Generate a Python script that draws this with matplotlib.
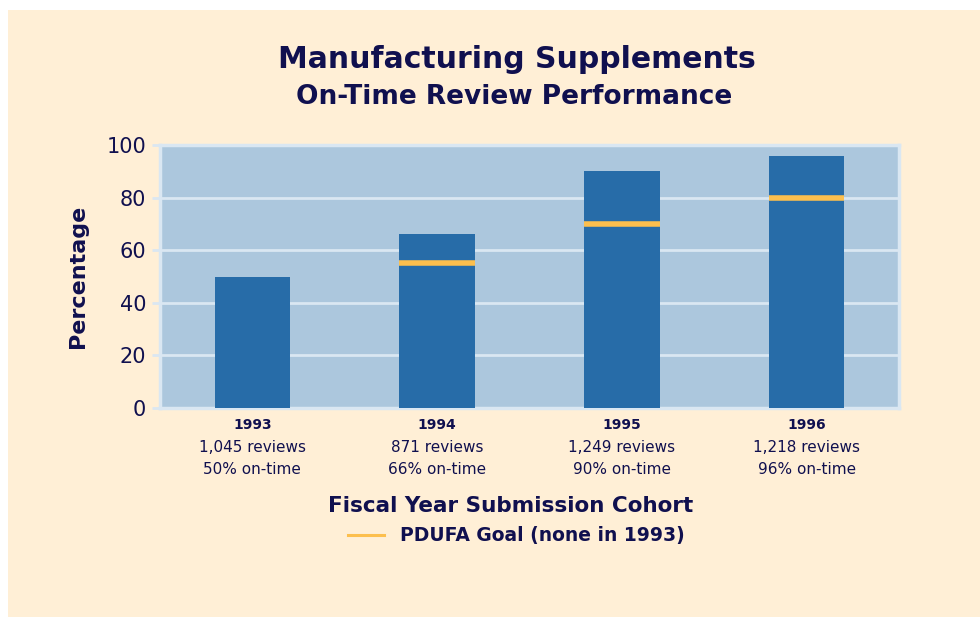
import matplotlib
matplotlib.use("Agg")
import matplotlib.pyplot as plt
from matplotlib.patches import Rectangle
from matplotlib.lines import Line2D

years = ["1993", "1994", "1995", "1996"]
reviews = ["1,045 reviews", "871 reviews", "1,249 reviews", "1,218 reviews"]
on_time_labels = ["50% on-time", "66% on-time", "90% on-time", "96% on-time"]
on_time = [50, 66, 90, 96]
goals = [None, 55, 70, 80]
yticks = [0, 20, 40, 60, 80, 100]

navy = "#10104F"
cream = "#FFEFD6"
plot_bg = "#ACC7DD"
bar_color = "#276CA8"
grid_color = "#DAE7F2"
goal_color = "#FCBF4E"

plt.rcParams['font.family'] = ['DejaVu Sans']

fig = plt.figure(figsize=(9.8, 6.17), dpi=100)
fig.patch.set_facecolor("white")
fig.patches.append(Rectangle((8/980, 0), 1, 1 - 10/617, transform=fig.transFigure,
                             facecolor=cream, edgecolor="none", zorder=-10))

ax = fig.add_axes([160/980, 1 - 408/617, (899 - 160)/980, (408 - 145)/617])
ax.set_zorder(1)
ax.set_facecolor(plot_bg)

x = list(range(len(years)))
bw = 0.41
ax.bar(x, on_time, width=bw, color=bar_color, zorder=3)
for xi, g in zip(x, goals):
    if g is not None:
        ax.hlines(g, xi - bw/2, xi + bw/2, colors=goal_color, linewidth=4.0, zorder=4)

ax.set_xlim(-0.5, len(years) - 0.5)
ax.set_ylim(0, 100)
ax.set_yticks(yticks)
ax.set_yticklabels([str(t) for t in yticks], fontsize=15, color=navy)
ax.yaxis.grid(True, color=grid_color, linewidth=2.0, zorder=1)
ax.set_axisbelow(True)
ax.tick_params(axis='y', length=6, width=2.0, color=grid_color, pad=4)
ax.tick_params(axis='x', length=0, labelbottom=False)
for s in ax.spines.values():
    s.set_color(grid_color)
    s.set_linewidth(2.5)

ax.set_ylabel("Percentage", fontsize=16, fontweight="bold", color=navy, labelpad=13)

for xi, yr, rv, ot in zip(x, years, reviews, on_time_labels):
    ax.annotate(yr, (xi, 0), xycoords=('data', 'axes fraction'), xytext=(0, -17),
                textcoords='offset pixels', ha='center', va='center',
                fontsize=10, fontweight='bold', color=navy)
    ax.annotate(rv, (xi, 0), xycoords=('data', 'axes fraction'), xytext=(0, -39),
                textcoords='offset pixels', ha='center', va='center',
                fontsize=11, color=navy)
    ax.annotate(ot, (xi, 0), xycoords=('data', 'axes fraction'), xytext=(0, -61),
                textcoords='offset pixels', ha='center', va='center',
                fontsize=11, color=navy)

fig.text(517/980, 1 - 60/617, "Manufacturing Supplements", ha='center', va='center',
         fontsize=21.5, fontweight='bold', color=navy)
fig.text(514/980, 1 - 97/617, "On-Time Review Performance", ha='center', va='center',
         fontsize=19, fontweight='bold', color=navy)
fig.text(511/980, 1 - 506/617, "Fiscal Year Submission Cohort", ha='center', va='center',
         fontsize=15.5, fontweight='bold', color=navy)

fig.lines.append(Line2D([348/980, 384/980], [1 - 535/617, 1 - 535/617],
                        transform=fig.transFigure, color=goal_color, linewidth=2.2))
fig.text(400/980, 1 - 535/617, "PDUFA Goal (none in 1993)", ha='left', va='center',
         fontsize=13.5, fontweight='bold', color=navy)

fig.savefig("out.png", dpi=100, facecolor=fig.get_facecolor())
